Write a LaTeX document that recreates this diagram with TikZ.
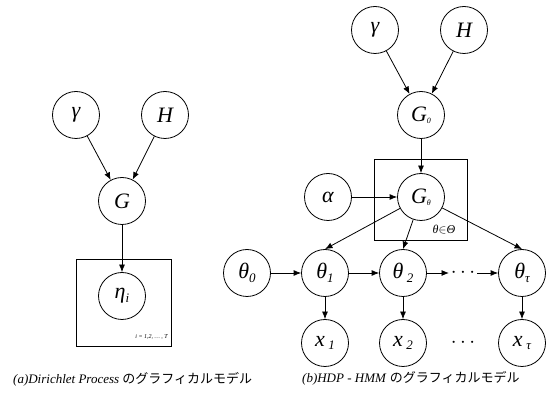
\documentclass[tikz,border=0pt]{standalone}
\usepackage{fontspec}
\setmainfont{Liberation Serif}
\newfontfamily\jp{Noto Sans CJK JP}
\usetikzlibrary{arrows.meta}
\newcommand{\bsub}[1]{\raisebox{-0.35ex}{\fontsize{13}{13}\selectfont\itshape #1}}
\newcommand{\ssub}[1]{\raisebox{-0.2ex}{\fontsize{8}{8}\selectfont\itshape #1}}
\begin{document}
\begin{tikzpicture}[x=1pt,y=-1pt,
  var/.style={circle,draw,line width=0.8pt,minimum size=47pt,inner sep=0pt,
    font=\fontsize{22}{22}\selectfont\itshape},
  arr/.style={line width=0.8pt,-{Latex[length=7.5pt,width=6pt]}},
  plate/.style={draw,line width=0.8pt},
  dotsnode/.style={font=\fontsize{20}{20}\selectfont,inner sep=0pt},
  captext/.style={font=\fontsize{13}{13}\selectfont,anchor=west,inner sep=0pt}]
\useasboundingbox (0,0) rectangle (547,403);
% ---------- (a) ----------
\draw[plate] (76,259) rectangle (171,346);
\node[var] (g1) at (76,115) {γ};
\node[var] (h1) at (165,115) {H};
\node[var] (G) at (122,201) {G};
\node[var] (eta) at (122,296) {η\bsub{i}};
\node[font=\fontsize{6}{6}\selectfont\itshape,anchor=east,inner sep=0pt] (ilab) at (168,337) {i = 1,2, … , T};
\draw[arr] (g1) -- (G);
\draw[arr] (h1) -- (G);
\draw[arr] (G) -- (eta);
\node[captext] (capa) at (13,379) {\textit{(a)Dirichlet Process} {\jp のグラフィカルモデル}};
% ---------- (b) ----------
\draw[plate] (374,159) rectangle (467,240);
\node[var] (g2) at (375,30) {γ};
\node[var] (h2) at (464,30) {H};
\node[var] (G0) at (421,115) {G\ssub{0}};
\node[var] (Gt) at (421,197) {G\ssub{θ}};
\node[var] (al) at (328,197) {α};
\node[font=\fontsize{12}{12}\selectfont\itshape,inner sep=0pt] (tlab) at (444,230) {θ$\in$Θ};
\node[var] (t0) at (247,273) {θ\bsub{0}};
\node[var] (t1) at (325,273) {θ\bsub{1}};
\node[var] (t2) at (403,273) {θ\,\bsub{2}};
\node[dotsnode] (tdots) at (463,273) {$\cdots$};
\node[var] (tt) at (522,273) {θ\bsub{τ}};
\node[var] (x1) at (325,343) {x\,\bsub{1}};
\node[var] (x2) at (403,343) {x\,\bsub{2}};
\node[dotsnode] (xdots) at (463,343) {$\cdots$};
\node[var] (xt) at (522,343) {x\,\bsub{τ}};
\coordinate (da) at (449,273);
\coordinate (db) at (477,273);
\draw[arr] (g2) -- (G0);
\draw[arr] (h2) -- (G0);
\draw[arr] (G0) -- (Gt);
\draw[arr] (al) -- (Gt);
\draw[arr] (Gt) -- (t1.north);
\draw[arr] (Gt) -- (t2.north);
\draw[arr] (Gt) -- (tt.north);
\draw[arr] (t0) -- (t1);
\draw[arr] (t1) -- (t2);
\draw[arr] (t2) -- (da);
\draw[arr] (db) -- (tt);
\draw[arr] (t1) -- (x1);
\draw[arr] (t2) -- (x2);
\draw[arr] (tt) -- (xt);
\node[captext] (capb) at (302,378) {\textit{(b)HDP - HMM} {\jp のグラフィカルモデル}};
\end{tikzpicture}
\end{document}
